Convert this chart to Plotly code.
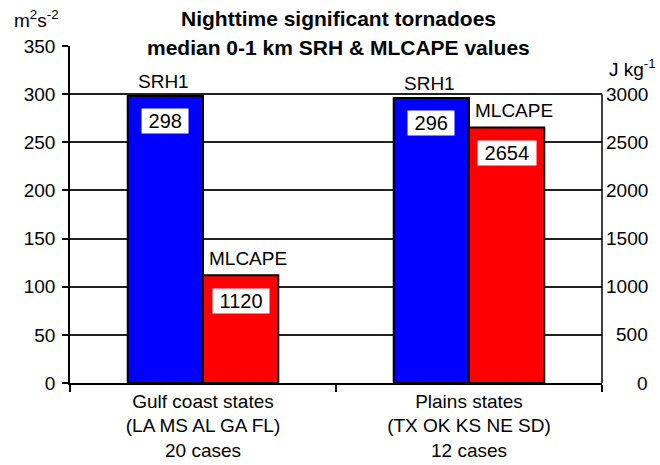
import plotly.graph_objects as go

categories = ["Gulf coast states<br>(LA MS AL GA FL)<br>20 cases",
              "Plains states<br>(TX OK KS NE SD)<br>12 cases"]
srh1 = [298, 296]
mlcape = [1120, 2654]
series_names = ["SRH1", "MLCAPE"]
left_ticks = [0, 50, 100, 150, 200, 250, 300, 350]
right_ticks = [0, 500, 1000, 1500, 2000, 2500, 3000]
title_lines = ["Nighttime significant tornadoes", "median 0-1 km SRH & MLCAPE values"]

FONT = "Arial, Liberation Sans, sans-serif"
BW = 0.283
NB = "\u00a0"

W, H = 660, 465
ML, MR, MT, MB = 70, 58, 46, 82
PH = H - MT - MB
PW = W - ML - MR


def py(p):
    return (H - MB - p) / PH


def px(p):
    return (p - ML) / PW


fig = go.Figure()
fig.add_trace(go.Bar(x=categories, y=srh1, name=series_names[0], yaxis="y",
                     width=BW, offset=-BW,
                     marker=dict(color="#0000FF", line=dict(color="black", width=2))))
fig.add_trace(go.Bar(x=categories, y=mlcape, name=series_names[1], yaxis="y2",
                     width=BW, offset=0,
                     marker=dict(color="#FF0000", line=dict(color="black", width=2))))

ann = []
for i in range(len(categories)):
    # value boxes
    ann.append(dict(x=i - BW / 2, y=srh1[i], xref="x", yref="y", text=NB + str(srh1[i]) + NB,
                    showarrow=False, yanchor="top", yshift=-12, bgcolor="white",
                    borderpad=1, font=dict(family=FONT, size=20, color="black")))
    ann.append(dict(x=i + BW / 2, y=mlcape[i], xref="x", yref="y2", text=NB + str(mlcape[i]) + NB,
                    showarrow=False, yanchor="top", yshift=-13, bgcolor="white",
                    borderpad=1, font=dict(family=FONT, size=20, color="black")))
    # series names above bars
    ann.append(dict(x=i - BW / 2, y=srh1[i], xref="x", yref="y", text=series_names[0],
                    showarrow=False, yanchor="bottom", yshift=2, xshift=-2,
                    font=dict(family=FONT, size=19, color="black")))
    ann.append(dict(x=i + BW / 2, y=mlcape[i], xref="x", yref="y2", text=series_names[1],
                    showarrow=False, yanchor="bottom", yshift=4, xshift=7,
                    font=dict(family=FONT, size=19, color="black")))

# right-aligned right axis tick labels
for v in right_ticks:
    ann.append(dict(x=px(650), y=v, xref="paper", yref="y2", text=str(v),
                    showarrow=False, xanchor="right", yanchor="middle",
                    font=dict(family=FONT, size=19, color="black")))

# title lines
ann.append(dict(x=px(338), y=py(18), xref="paper", yref="paper", text="<b>" + title_lines[0] + "</b>",
                showarrow=False, xanchor="center", yanchor="middle",
                font=dict(family=FONT, size=21, color="black")))
ann.append(dict(x=px(338), y=py(47), xref="paper", yref="paper", text="<b>" + title_lines[1] + "</b>",
                showarrow=False, xanchor="center", yanchor="middle",
                font=dict(family=FONT, size=21, color="black")))
# units
ann.append(dict(x=px(12), y=py(33), xref="paper", yref="paper", text="m<sup>2</sup>s<sup>-2</sup>",
                showarrow=False, xanchor="left", yanchor="bottom",
                font=dict(family=FONT, size=19, color="black")))
ann.append(dict(x=px(607), y=py(82), xref="paper", yref="paper", text="J kg<sup>-1</sup>",
                showarrow=False, xanchor="left", yanchor="bottom",
                font=dict(family=FONT, size=19, color="black")))

fig.update_layout(
    width=W, height=H,
    margin=dict(l=ML, r=MR, t=MT, b=MB, pad=0, autoexpand=False),
    paper_bgcolor="white", plot_bgcolor="white",
    showlegend=False,
    barmode="overlay",
    font=dict(family=FONT, size=19, color="black"),
    xaxis=dict(type="category", tickson="boundaries", ticks="outside", ticklen=7,
               tickwidth=1.5, tickcolor="black", showline=True, linecolor="black",
               linewidth=1.5, showgrid=False, zeroline=False, automargin=False,
               ticklabelstandoff=0,
               tickfont=dict(family=FONT, size=19, color="black"), range=[-0.5, 1.5]),
    yaxis=dict(range=[0, 350], tickvals=left_ticks, ticks="outside", ticklen=6,
               tickwidth=1.5, tickcolor="black", showline=True, linecolor="black",
               linewidth=1.5, showgrid=False, zeroline=False, automargin=False,
               ticklabelstandoff=3,
               tickfont=dict(family=FONT, size=19, color="black")),
    yaxis2=dict(range=[0, 3500], tickvals=right_ticks, overlaying="y", side="right",
                showticklabels=False, ticks="", showline=False, showgrid=True,
                gridcolor="#222222", gridwidth=1.5, zeroline=False, automargin=False),
    annotations=ann,
    shapes=[dict(type="line", xref="paper", yref="y2", x0=1, x1=1, y0=0, y1=3000,
                 line=dict(color="black", width=1.5))],
)

fig.write_html("out.html")
